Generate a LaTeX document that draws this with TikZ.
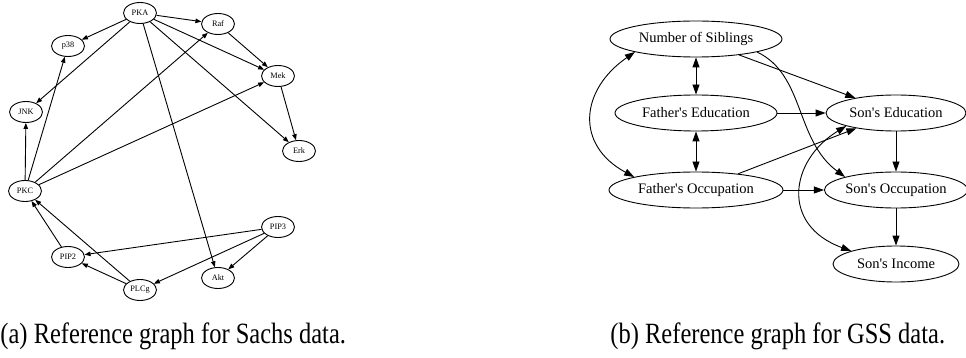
\documentclass[tikz,border=0pt]{standalone}
\usepackage{fontspec}
\setmainfont{Liberation Serif}
\newfontfamily\graphfont{Liberation Serif}
\usetikzlibrary{arrows.meta,shapes.geometric}

\begin{document}
\begin{tikzpicture}[x=1pt,y=-1pt,line width=0.9pt,
        gene/.style={draw,ellipse,inner sep=0pt,minimum width=33pt,minimum height=21pt,font=\graphfont\fontsize{8.3}{9}\selectfont},
        var/.style={draw,ellipse,inner sep=0pt,minimum height=36pt,font=\graphfont\fontsize{14.5}{16}\selectfont},
        sig/.style={-{Triangle[length=6pt,width=4.5pt]}},
        dep/.style={-{Triangle[length=10pt,width=7pt]}},
        both/.style={{Triangle[length=10pt,width=7pt]}-{Triangle[length=10pt,width=7pt]}},
        caption/.style={anchor=base west,inner sep=0pt,font=\graphfont\fontsize{24.5}{26}\selectfont}]
        \useasboundingbox (0,0) rectangle (966,358);

        \node[gene] (PKA) at (140,13){PKA};
        \node[gene] (Raf) at (218,24){Raf};
        \node[gene] (p38) at (68,46){p38};
        \node[gene] (Mek) at (278,76){Mek};
        \node[gene] (JNK) at (26,112){JNK};
        \node[gene] (Erk) at (299,151){Erk};
        \node[gene] (PKC) at (25,191){PKC};
        \node[gene] (PIP3) at (278,227){PIP3};
        \node[gene] (PIP2) at (68,257){PIP2};
        \node[gene] (Akt) at (218,278){Akt};
        \node[gene] (PLCg) at (140,290){PLCg};
        \foreach \a/\b in {PKA/Raf,PKA/p38,PKA/JNK,PKA/Mek,PKA/Erk,PKA/Akt,Raf/Mek,Mek/Erk,
                PKC/JNK,PKC/p38,PKC/Raf,PKC/Mek,PIP3/PIP2,PIP3/PLCg,PIP3/Akt,PIP2/PKC,PLCg/PIP2,PLCg/PKC} {
            \draw[sig] (\a) -- (\b);
        }

        \node[var,minimum width=172pt] (sib) at (696,39){Number of Siblings};
        \node[var,minimum width=162pt] (fedu) at (696,113){Father\textquotesingle s Education};
        \node[var,minimum width=174pt] (focc) at (696,190){Father\textquotesingle s Occupation};
        \node[var,minimum width=140pt] (sedu) at (896,113){Son\textquotesingle s Education};
        \node[var,minimum width=140pt] (socc) at (896,190){Son\textquotesingle s Occupation};
        \node[var,minimum width=126pt] (sinc) at (896,264){Son\textquotesingle s Income};
        \draw[both] (sib) -- (fedu);
        \draw[both] (fedu) -- (focc);
        \draw[both] (sib.south west) .. controls (580,90) and (575,145) .. (focc.north west);
        \foreach \a/\b in {sib/sedu,fedu/sedu,focc/sedu,focc/socc,sedu/socc,socc/sinc} {
            \draw[dep] (\a) -- (\b);
        }
        \draw[dep] (sib.south east) .. controls (805,75) and (795,140) .. (socc.north west);
        \draw[both] (sedu.south west) .. controls (790,160) and (780,225) .. (sinc.north west);

        \node[caption] (capa) at (0,343){\scalebox{1}[1.2]{(a) Reference graph for Sachs data.}};
        \node[caption] (capb) at (610,343){\scalebox{1}[1.2]{(b) Reference graph for GSS data.}};

\end{tikzpicture}
\end{document}
